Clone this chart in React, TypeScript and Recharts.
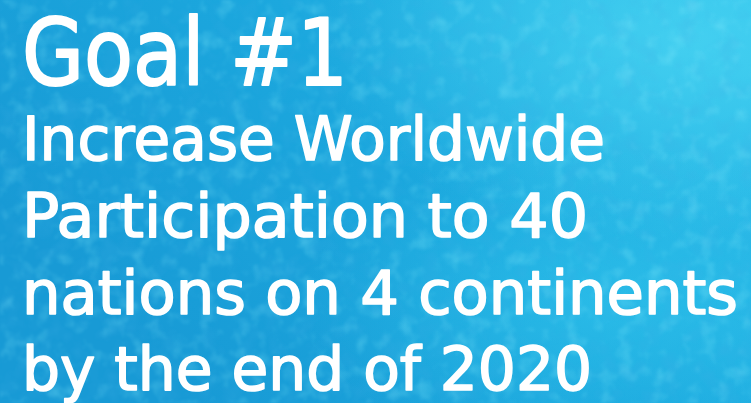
import { ComposedChart, Customized } from "recharts";

// text content
const title = "Goal #1";
const bodyLines = [
  "Increase Worldwide",
  "Participation to 40",
  "nations on 4 continents",
  "by the end of 2020",
];

const W = 751;
const H = 403;
const LEFT = 22;
const TITLE_BASE = 85;
const TITLE_WIDTH = 326;
const BODY_BASE = [160, 237, 314, 390];
const BODY_WIDTH = [583, 566, 716, 570];

const FONT = "'DejaVu Sans', 'Noto Sans', sans-serif";

function Poster() {
  return (
    <g>
      <defs>
        <linearGradient id="bg" x1="0" y1="0.5" x2="1" y2="0">
          <stop offset="0%" stopColor="#189ad5" />
          <stop offset="50%" stopColor="#1ca8de" />
          <stop offset="100%" stopColor="#2cbfea" />
        </linearGradient>
        <radialGradient id="glow" cx="0.92" cy="0.1" r="0.5">
          <stop offset="0%" stopColor="#4cd6f3" stopOpacity={0.75} />
          <stop offset="100%" stopColor="#4cd6f3" stopOpacity={0} />
        </radialGradient>
        <radialGradient id="glow2" cx="0.8" cy="0.75" r="0.4">
          <stop offset="0%" stopColor="#36ccf0" stopOpacity={0.5} />
          <stop offset="100%" stopColor="#36ccf0" stopOpacity={0} />
        </radialGradient>
        <filter id="grain" x="0" y="0" width="100%" height="100%">
          <feTurbulence type="fractalNoise" baseFrequency="0.06" numOctaves={3} seed={7} />
          <feColorMatrix
            type="matrix"
            values="0 0 0 0 0.25  0 0 0 0 0.85  0 0 0 0 0.98  0 0 0 2.4 -1.2"
          />
          <feGaussianBlur stdDeviation={0.8} />
        </filter>
        <filter id="dark" x="0" y="0" width="100%" height="100%">
          <feTurbulence type="fractalNoise" baseFrequency="0.05" numOctaves={3} seed={3} />
          <feColorMatrix
            type="matrix"
            values="0 0 0 0 0.05  0 0 0 0 0.42  0 0 0 0 0.78  0 0 0 -2.4 1.3"
          />
          <feGaussianBlur stdDeviation={0.8} />
        </filter>
      </defs>
      <rect x={0} y={0} width={W} height={H} fill="url(#bg)" />
      <rect x={0} y={0} width={W} height={H} fill="url(#glow)" />
      <rect x={0} y={0} width={W} height={H} fill="url(#glow2)" />
      <rect x={0} y={0} width={W} height={H} filter="url(#grain)" opacity={0.3} />
      <rect x={0} y={0} width={W} height={H} filter="url(#dark)" opacity={0.22} />
      <text
        x={LEFT}
        y={TITLE_BASE}
        fill="#ffffff"
        stroke="#ffffff"
        strokeWidth={2}
        strokeLinejoin="round"
        fontFamily={FONT}
        fontSize={92}
        textLength={TITLE_WIDTH}
        lengthAdjust="spacingAndGlyphs"
      >
        {title}
      </text>
      {bodyLines.map((line, i) => (
        <text
          key={line}
          x={LEFT}
          y={BODY_BASE[i]}
          fill="#ffffff"
          stroke="#ffffff"
          strokeWidth={1.6}
          strokeLinejoin="round"
          fontFamily={FONT}
          fontSize={60}
          textLength={BODY_WIDTH[i]}
          lengthAdjust="spacingAndGlyphs"
        >
          {line}
        </text>
      ))}
    </g>
  );
}

export default function App() {
  return (
    <div style={{ position: "absolute", left: 0, top: 0, width: W, height: H }}>
      <ComposedChart width={W} height={H} margin={{ top: 0, right: 0, bottom: 0, left: 0 }}>
        <Customized component={Poster} />
      </ComposedChart>
    </div>
  );
}
